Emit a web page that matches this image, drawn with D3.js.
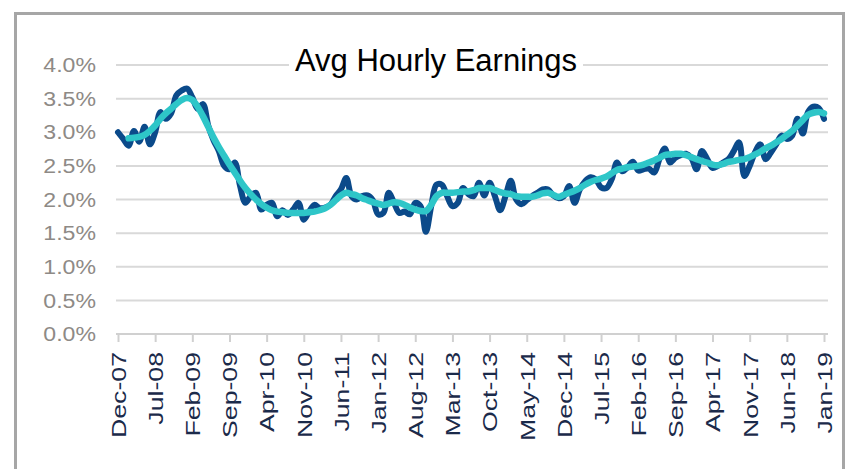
<!DOCTYPE html>
<html>
<head>
<meta charset="utf-8">
<script src="https://cdn.jsdelivr.net/npm/d3@7"></script>
<style>
  body { margin: 0; background: #fff; }
  text { font-family: "Liberation Sans", Arial, sans-serif; }
</style>
</head>
<body>
<div id="chart"></div>
<script>
// tick labels on the x axis, one every 7 months from Dec-07
let tickLabels = ["Dec-07", "Jul-08", "Feb-09", "Sep-09", "Apr-10", "Nov-10", "Jun-11", "Jan-12",
    "Aug-12", "Mar-13", "Oct-13", "May-14", "Dec-14", "Jul-15", "Feb-16", "Sep-16", "Apr-17",
    "Nov-17", "Jun-18", "Jan-19"];

let yTicks = [0, 0.5, 1, 1.5, 2, 2.5, 3, 3.5, 4];

// monthly avg hourly earnings y/y %, Dec-07 .. Jan-19
let earnings = [
    3.00, 2.90, 2.80, 3.02, 2.86, 3.08, 2.82, 3.00, 3.30, 3.20,
    3.28, 3.55, 3.62, 3.65, 3.52, 3.35, 3.42, 3.10, 2.88, 2.72,
    2.50, 2.45, 2.55, 2.20, 1.95, 2.05, 2.10, 1.85, 1.92, 1.95,
    1.75, 1.84, 1.77, 1.85, 1.95, 1.70, 1.82, 1.92, 1.87, 1.88,
    1.92, 2.05, 2.15, 2.32, 2.05, 2.00, 2.05, 2.06, 1.99, 1.78,
    1.80, 2.10, 1.95, 1.80, 1.82, 1.78, 1.95, 1.90, 1.52, 1.90,
    2.22, 2.22, 2.05, 1.90, 1.95, 2.17, 2.08, 2.05, 2.25, 2.06,
    2.25, 2.05, 1.84, 2.05, 2.28, 2.00, 1.93, 1.99, 2.05, 2.10,
    2.15, 2.15, 2.06, 2.02, 2.05, 2.20, 1.95, 2.15, 2.27, 2.33,
    2.30, 2.18, 2.17, 2.30, 2.55, 2.42, 2.48, 2.56, 2.43, 2.45,
    2.46, 2.40, 2.60, 2.76, 2.55, 2.62, 2.66, 2.68, 2.62, 2.45,
    2.72, 2.60, 2.47, 2.50, 2.55, 2.60, 2.72, 2.85, 2.35, 2.50,
    2.70, 2.82, 2.60, 2.70, 2.82, 2.95, 2.90, 2.95, 3.20, 2.98,
    3.30, 3.38, 3.36, 3.20
];

// smoothed line, starts at Feb-08 (month 2)
let smoothStart = 2;
let smoothed = [
    2.91, 2.92, 2.93, 2.96, 3.02, 3.10, 3.20, 3.28, 3.35, 3.42,
    3.48, 3.51, 3.48, 3.38, 3.24, 3.08, 2.92, 2.78, 2.65, 2.52,
    2.40, 2.28, 2.17, 2.08, 2.00, 1.93, 1.88, 1.84, 1.82, 1.81,
    1.80, 1.80, 1.80, 1.80, 1.81, 1.82, 1.84, 1.87, 1.92, 1.99,
    2.06, 2.10, 2.08, 2.06, 2.02, 1.99, 1.96, 1.94, 1.92, 1.94,
    1.96, 1.95, 1.92, 1.88, 1.85, 1.83, 1.83, 1.92, 2.05, 2.10,
    2.10, 2.10, 2.11, 2.12, 2.12, 2.14, 2.17, 2.17, 2.17, 2.14,
    2.11, 2.09, 2.08, 2.05, 2.04, 2.04, 2.04, 2.06, 2.09, 2.10,
    2.07, 2.04, 2.07, 2.10, 2.13, 2.17, 2.22, 2.26, 2.29, 2.31,
    2.34, 2.39, 2.44, 2.46, 2.48, 2.49, 2.50, 2.52, 2.55, 2.58,
    2.62, 2.66, 2.67, 2.68, 2.68, 2.66, 2.63, 2.60, 2.57, 2.55,
    2.52, 2.51, 2.53, 2.56, 2.57, 2.59, 2.60, 2.63, 2.67, 2.71,
    2.76, 2.80, 2.85, 2.90, 2.96, 3.02, 3.10, 3.18, 3.26, 3.29,
    3.30, 3.28
];

let W = 845, H = 469;
let margin = {left: 118, right: 21, top: 65, bottom: 135};

let svg = d3.select("#chart")
    .append("svg")
    .attr("width", W)
    .attr("height", H);

// outer frame
svg.append("rect")
    .attr("x", 15.5)
    .attr("y", 13.5)
    .attr("width", 828)
    .attr("height", 480)
    .attr("fill", "none")
    .attr("stroke", "#a6a6a6")
    .attr("stroke-width", 3);

let x = d3.scaleLinear()
    .domain([0, earnings.length - 1])
    .range([margin.left, W - margin.right]);

let y = d3.scaleLinear()
    .domain([0, 4])
    .range([H - margin.bottom, margin.top]);

// gridlines
svg.append("g")
    .selectAll("line")
    .data(yTicks.filter(d => d > 0))
    .enter()
    .append("line")
    .attr("x1", 116)
    .attr("x2", 828)
    .attr("y1", d => y(d))
    .attr("y2", d => y(d))
    .attr("stroke", "#d9d9d9")
    .attr("stroke-width", 2);

// y axis labels
let yAxis = d3.axisLeft(y)
    .tickValues(yTicks)
    .tickSize(0)
    .tickPadding(0)
    .tickFormat(d => d.toFixed(1) + "%");

let yg = svg.append("g")
    .attr("transform", "translate(96,0)")
    .call(yAxis);
yg.select(".domain").remove();
yg.selectAll("text")
    .attr("font-size", "21px")
    .attr("fill", "#8e8a86")
    .attr("font-family", "Liberation Sans, Arial, sans-serif")
    .attr("transform", "scale(1.1,1)")
    .attr("x", 0);

// x axis
let xAxis = d3.axisBottom(x)
    .tickValues(tickLabels.map((d, i) => i * 7))
    .tickSize(8)
    .tickPadding(0)
    .tickFormat((d, i) => tickLabels[i]);

let xg = svg.append("g")
    .attr("transform", "translate(0," + y(0) + ")")
    .call(xAxis);
xg.select(".domain")
    .attr("stroke", "#d0d0d0")
    .attr("stroke-width", 2)
    .attr("d", "M116,0H828");
xg.selectAll(".tick line")
    .attr("stroke", "#d0d0d0")
    .attr("stroke-width", 2);
xg.selectAll("text")
    .attr("font-size", "21px")
    .attr("fill", "#1b2a4a")
    .attr("font-family", "Liberation Sans, Arial, sans-serif")
    .attr("text-anchor", "end")
    .attr("x", 0)
    .attr("y", 0)
    .attr("dy", "0.35em")
    .attr("transform", "translate(0,18) rotate(-90) scale(1.27,1)");

// lines
let line = d3.line()
    .x(d => x(d.i))
    .y(d => y(d.v))
    .curve(d3.curveCatmullRom.alpha(0.5));

svg.append("path")
    .datum(earnings.map((v, i) => ({i: i, v: v})))
    .attr("fill", "none")
    .attr("stroke", "#0b4a8a")
    .attr("stroke-width", 6)
    .attr("stroke-linejoin", "round")
    .attr("stroke-linecap", "round")
    .attr("d", line);

svg.append("path")
    .datum(smoothed.map((v, i) => ({i: i + smoothStart, v: v})))
    .attr("fill", "none")
    .attr("stroke", "#2ec6c8")
    .attr("stroke-width", 6.5)
    .attr("stroke-linejoin", "round")
    .attr("stroke-linecap", "round")
    .attr("d", line);

// title with a white box behind it
let titleBox = svg.append("rect")
    .attr("fill", "#fff");

let title = svg.append("text")
    .attr("x", 436)
    .attr("y", 71)
    .attr("text-anchor", "middle")
    .attr("font-size", "31px")
    .attr("fill", "#000")
    .text("Avg Hourly Earnings");

let bb = title.node().getBBox();
titleBox
    .attr("x", bb.x - 6)
    .attr("y", bb.y)
    .attr("width", bb.width + 12)
    .attr("height", bb.height);
</script>
</body>
</html>
